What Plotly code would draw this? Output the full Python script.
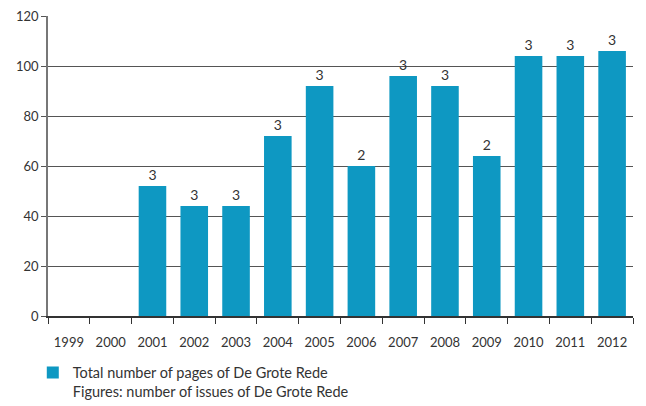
import plotly.graph_objects as go

# Pages and issues of De Grote Rede per year
years = ["1999", "2000", "2001", "2002", "2003", "2004", "2005",
         "2006", "2007", "2008", "2009", "2010", "2011", "2012"]
pages = [None, None, 52, 44, 44, 72, 92, 60, 96, 92, 64, 104, 104, 106]
issues = ["", "", "3", "3", "3", "3", "3", "2", "3", "3", "2", "3", "3", "3"]

bar_color = "#0E98C2"
text_color = "#333333"
grid_color = "#555555"
font_family = "Lato, 'Open Sans', sans-serif"

fig = go.Figure()
fig.add_trace(go.Bar(
    x=years,
    y=pages,
    text=issues,
    textposition="outside",
    textfont=dict(size=14, color=text_color, family=font_family),
    cliponaxis=False,
    marker=dict(color=bar_color, line=dict(width=0)),
    width=0.66,
    name="Total number of pages of De Grote Rede<br>Figures: number of issues of De Grote Rede",
    showlegend=True,
))

fig.update_layout(
    width=646,
    height=406,
    margin=dict(l=48, r=13, t=16, b=90, autoexpand=False),
    paper_bgcolor="white",
    plot_bgcolor="white",
    font=dict(family=font_family, size=13, color=text_color),
    showlegend=True,
    legend=dict(
        x=-0.026, y=-0.135, xanchor="left", yanchor="top",
        font=dict(size=14.5, color=text_color, family=font_family),
        valign="top",
        itemwidth=30,
        bgcolor="rgba(0,0,0,0)",
    ),
)

fig.update_xaxes(
    type="category",
    showgrid=False,
    showline=True,
    linecolor="#333333",
    linewidth=1.5,
    ticks="outside",
    tickson="boundaries",
    ticklen=6,
    tickcolor="#333333",
    tickwidth=1,
    ticklabelstandoff=14,
    tickfont=dict(size=13, color=text_color),
    fixedrange=True,
)

fig.update_yaxes(
    range=[0, 120],
    dtick=20,
    showgrid=True,
    gridcolor=grid_color,
    gridwidth=1,
    zeroline=False,
    showline=True,
    linecolor="#777777",
    linewidth=1.5,
    ticks="outside",
    ticklen=5,
    tickcolor=grid_color,
    tickfont=dict(size=13, color=text_color),
    fixedrange=True,
)

fig.write_html("out.html")
